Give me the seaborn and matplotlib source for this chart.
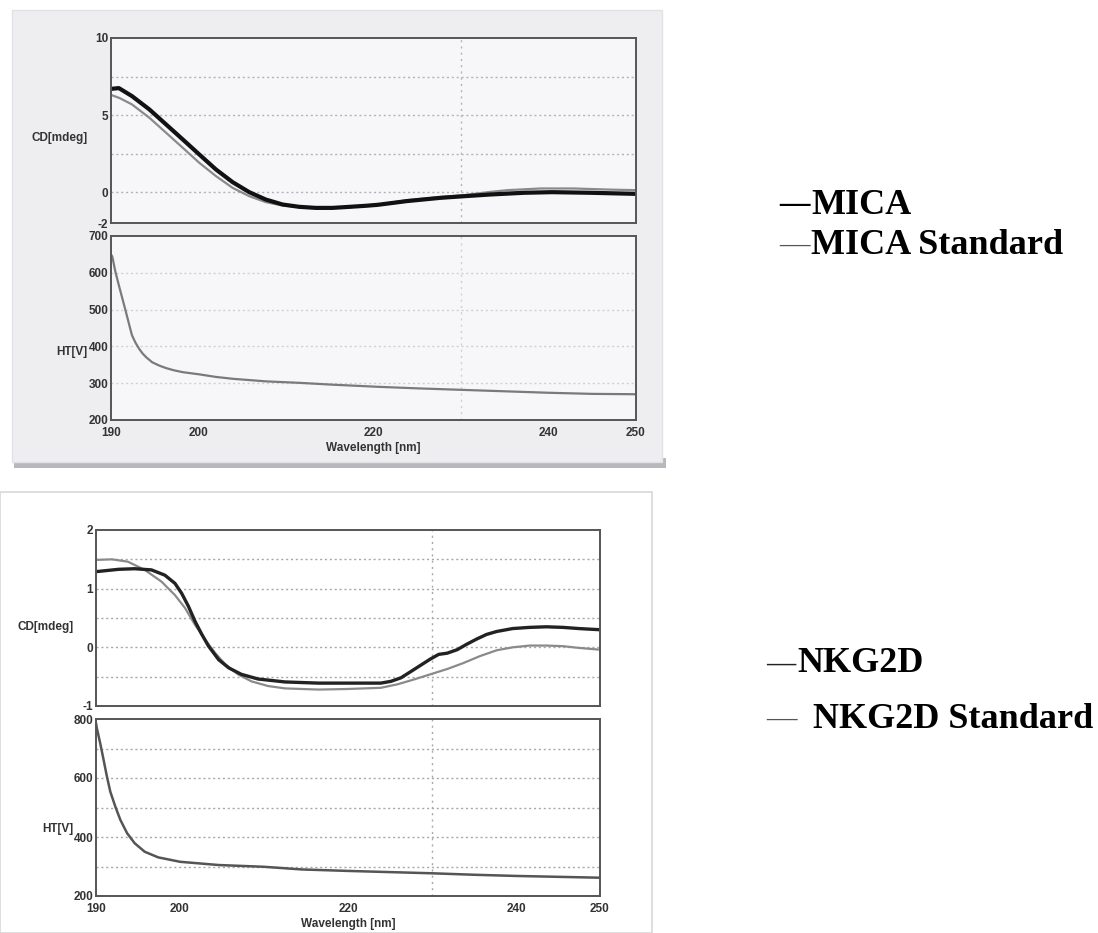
import numpy as np
import pandas as pd
import matplotlib
matplotlib.use("Agg")
import matplotlib.pyplot as plt
from matplotlib.patches import Rectangle
import seaborn as sns

# ---- datos ----
wl_mica = [190, 190.9, 192.4, 194.4, 196.3, 198.2, 200.1, 202, 203.9, 205.8, 207.7, 209.6, 211.5,
           213.4, 215.3, 217.3, 219.2, 220.5, 223.8, 227.6, 230.4, 233.4, 237.2, 240.4, 244.8, 250]
cd_mica = [6.70, 6.75, 6.23, 5.36, 4.39, 3.42, 2.44, 1.47, 0.65, 0.0, -0.48, -0.80, -0.95,
           -1.02, -1.02, -0.95, -0.88, -0.82, -0.58, -0.37, -0.26, -0.15, -0.04, 0.0, -0.04, -0.11]

wl_mica_std = [190, 191, 192.4, 194.4, 196.3, 198.2, 200.1, 202, 203.9, 205.8, 207.7, 209.6, 211.5,
               213.4, 215.3, 217.3, 219.2, 220.5, 223.8, 227.6, 230.4, 233.4, 235.3, 239.1, 242.9,
               246.7, 250]
cd_mica_std = [6.31, 6.1, 5.69, 4.82, 3.85, 2.88, 1.9, 1.04, 0.28, -0.26, -0.65, -0.86, -0.97,
               -1.02, -1.02, -0.97, -0.88, -0.82, -0.52, -0.32, -0.19, 0.02, 0.13, 0.24, 0.24,
               0.17, 0.13]

wl_mica_ht = [190, 190.15, 190.5, 190.9, 191.3, 191.7, 192.1, 192.4, 192.8, 193.2, 193.6, 194.0,
              194.7, 195.5, 196.3, 197.2, 198.2, 200.1, 202, 203.9, 207.7, 211.5, 215.3, 220.7,
              225, 230, 235, 240, 245, 250]
ht_mica = [650, 644, 603, 566, 530, 494, 457, 430, 410, 394, 381, 371,
           357, 348, 341, 335, 330, 324, 317, 312, 305, 301, 296, 290,
           286, 282, 278, 274, 271, 270]

wl_nkg = [190, 192.7, 194.6, 196.6, 198.2, 199.4, 200.2, 201, 201.8, 202.6, 203.4, 204.6, 205.8,
          207.3, 209.3, 212.5, 216.5, 220, 223.9, 225.1, 226.3, 227.4, 228.6, 229.8, 230.8, 231.8,
          233, 234.1, 235.3, 236.5, 237.7, 239.6, 241.6, 243.6, 245.6, 247.5, 250]
cd_nkg = [1.29, 1.33, 1.34, 1.32, 1.23, 1.09, 0.92, 0.70, 0.44, 0.22, 0.02, -0.21, -0.35,
          -0.46, -0.54, -0.59, -0.61, -0.61, -0.61, -0.58, -0.52, -0.42, -0.31, -0.2, -0.12, -0.10,
          -0.04, 0.05, 0.14, 0.22, 0.27, 0.32, 0.34, 0.35, 0.34, 0.32, 0.30]

wl_nkg_std = [190, 191.9, 193.8, 195.8, 197.8, 199.4, 200.6, 201.8, 203, 204.2, 205.4, 206.9,
              208.5, 210.5, 212.5, 216.5, 220, 223.9, 225.9, 227.8, 229.8, 231.8, 233.7, 235.7,
              237.7, 239.6, 241.6, 243.6, 245.6, 247.5, 250]
cd_nkg_std = [1.49, 1.50, 1.46, 1.32, 1.12, 0.89, 0.67, 0.38, 0.13, -0.10, -0.29, -0.46,
              -0.58, -0.66, -0.70, -0.72, -0.71, -0.69, -0.63, -0.55, -0.46, -0.37, -0.27, -0.15,
              -0.05, 0.0, 0.03, 0.03, 0.02, -0.01, -0.04]

wl_nkg_ht = [190, 190.1, 190.5, 190.9, 191.3, 191.7, 192.3, 192.9, 193.7, 194.6, 195.8, 197.4,
             200, 204.6, 210, 214.5, 220, 225, 230, 235, 240, 245, 250]
ht_nkg = [786, 769, 718, 662, 605, 554, 503, 458, 413, 379, 350, 331,
          316, 305, 299, 290, 285, 281, 277, 272, 268, 265, 262]

x_ticks = [190, 200, 210, 220, 230, 240, 250]
x_labels = ["190", "200", "", "220", "", "240", "250"]

cd_mica_ticks = [-2, 0, 5, 10]
cd_mica_grid = [0, 2.5, 5, 7.5]
ht_mica_ticks = [200, 300, 400, 500, 600, 700]
ht_mica_grid = [300, 400, 500, 600]
cd_nkg_ticks = [-1, 0, 1, 2]
cd_nkg_grid = [-0.5, 0, 0.5, 1, 1.5]
ht_nkg_ticks = [200, 400, 600, 800]
ht_nkg_grid = [300, 400, 500, 600, 700]

legend_mica = ["MICA", "MICA Standard"]
legend_nkg = ["NKG2D", "NKG2D Standard"]

# ---- figura ----
sns.set_style("white")
plt.rcParams["font.family"] = ["Liberation Sans", "DejaVu Sans"]

W, H = 1098, 933
fig = plt.figure(figsize=(W / 100, H / 100), dpi=100)
fig.patch.set_facecolor("white")


def px_axes(l, t, r, b):
    ax = fig.add_axes([l / W, 1 - b / H, (r - l) / W, (b - t) / H])
    ax.set_zorder(2)
    return ax


def rect_px(l, t, r, b, **kw):
    fig.patches.append(Rectangle((l / W, 1 - b / H), (r - l) / W, (b - t) / H,
                                 transform=fig.transFigure, zorder=-5, **kw))


# fondos de las "tarjetas" escaneadas
rect_px(14, 458, 666, 468, facecolor="#b8b8bc", edgecolor="none")
rect_px(12, 10, 662, 462, facecolor="#eeeef1", edgecolor="#e2e2e6", lw=1)
rect_px(0, 492, 652, 933, facecolor="white", edgecolor="#d8d8d8", lw=1.2)


def style_axes(ax, yticks, ylim, grid_y, face, show_xlabels, ylabel, ylab_y, grid_color):
    ax.set_facecolor(face)
    ax.set_xlim(190, 250)
    ax.set_ylim(*ylim)
    for s in ax.spines.values():
        s.set_visible(True)
        s.set_color("#555555")
        s.set_linewidth(1.4)
    ax.set_xticks(x_ticks)
    if show_xlabels:
        ax.set_xticklabels(x_labels)
        ax.set_xlabel("Wavelength [nm]", fontsize=8.5, fontweight="bold", color="#333333", labelpad=2)
    else:
        ax.set_xticklabels([])
        ax.set_xlabel("")
    ax.set_yticks(yticks)
    ax.set_yticklabels([str(t) for t in yticks])
    ax.tick_params(axis="x", direction="in", length=6, width=1.2, color="#555555",
                   labelsize=8.5, labelcolor="#333333", pad=5)
    ax.tick_params(axis="y", direction="in", length=3, width=1, color="#555555",
                   labelsize=8.5, labelcolor="#333333", pad=2)
    for lab in ax.get_xticklabels() + ax.get_yticklabels():
        lab.set_fontweight("bold")
    for g in grid_y:
        ax.axhline(g, color=grid_color, lw=1.0, ls=(0, (1.5, 2)), zorder=0.5)
    ax.axvline(230, color=grid_color, lw=1.0, ls=(0, (1.5, 3)), zorder=0.5)
    ax.set_ylabel(ylabel, rotation=0, fontsize=8.5, fontweight="bold", color="#333333",
                  ha="right", va="center")
    ax.yaxis.set_label_coords(-0.045, ylab_y)


# ---- MICA ----
ax1 = px_axes(111, 38, 636, 223)
sns.lineplot(x=wl_mica_std, y=cd_mica_std, ax=ax1, color="#8a8a8a", lw=1.6)
sns.lineplot(x=wl_mica, y=cd_mica, ax=ax1, color="#111111", lw=3.0)
style_axes(ax1, cd_mica_ticks, (-2, 10), cd_mica_grid, "#f7f7f9", False,
           "CD[mdeg]", 0.46, "#b4b4b8")

ax2 = px_axes(111, 236, 636, 420)
sns.lineplot(x=wl_mica_ht, y=ht_mica, ax=ax2, color="#7a7a7a", lw=1.6)
style_axes(ax2, ht_mica_ticks, (200, 700), ht_mica_grid, "#f7f7f9", True,
           "HT[V]", 0.37, "#d0d0d4")

# ---- NKG2D ----
ax3 = px_axes(96, 530, 600, 706)
sns.lineplot(x=wl_nkg_std, y=cd_nkg_std, ax=ax3, color="#8a8a8a", lw=1.6)
sns.lineplot(x=wl_nkg, y=cd_nkg, ax=ax3, color="#222222", lw=2.4)
style_axes(ax3, cd_nkg_ticks, (-1, 2), cd_nkg_grid, "white", False,
           "CD[mdeg]", 0.45, "#a8a8a8")

ax4 = px_axes(96, 719, 600, 896)
sns.lineplot(x=wl_nkg_ht, y=ht_nkg, ax=ax4, color="#555555", lw=1.8)
style_axes(ax4, ht_nkg_ticks, (200, 800), ht_nkg_grid, "white", True,
           "HT[V]", 0.38, "#a8a8a8")

# ---- leyendas como texto ----
serif = ["Liberation Serif", "DejaVu Serif"]


def legend_row(x_dash, x_text, y, label, dash_w, dash_c, dash_fs):
    fig.text(x_dash / W, 1 - y / H, "\u2014", family=serif, fontsize=dash_fs, fontweight=dash_w,
             color=dash_c, ha="left", va="center")
    fig.text(x_text / W, 1 - y / H, label, family=serif, fontsize=26, fontweight="bold",
             color="black", ha="left", va="center")


legend_row(779, 811, 205, legend_mica[0], "bold", "black", 22)
legend_row(779, 811, 245, legend_mica[1], "normal", "#555555", 22)
legend_row(766, 797, 664, legend_nkg[0], "bold", "#222222", 21)
legend_row(766, 813, 719, legend_nkg[1], "normal", "#555555", 22)

fig.savefig("out.png", dpi=100)
